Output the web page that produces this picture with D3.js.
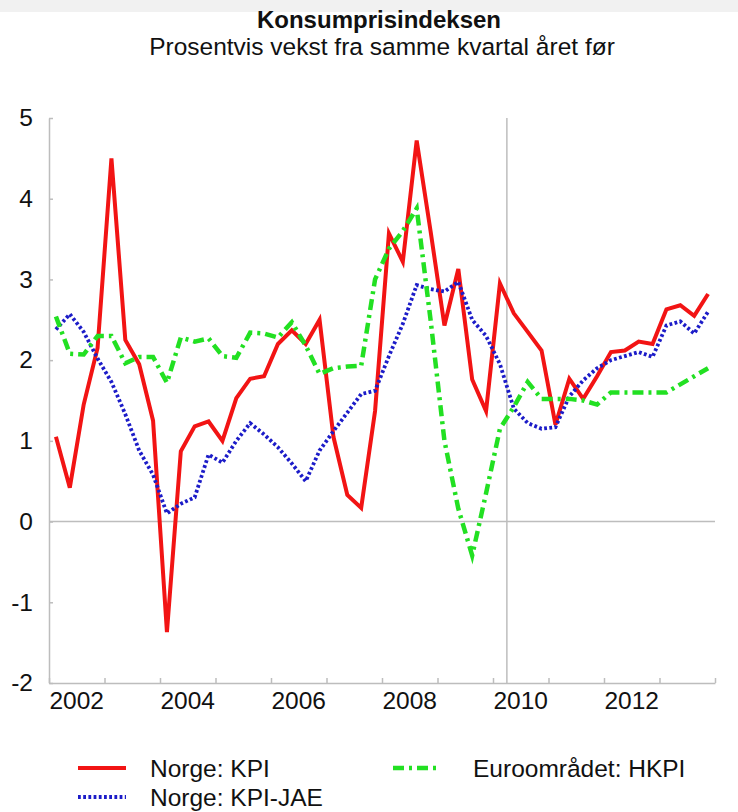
<!DOCTYPE html>
<html>
<head>
<meta charset="utf-8">
<script src="https://cdn.jsdelivr.net/npm/d3@7"></script>
<style>
body { margin: 0; background: #fff; }
text { font-family: 'Liberation Sans', Arial, sans-serif; fill: #111; }
</style>
</head>
<body>
<svg width="738" height="812"></svg>
<script>
var quarters = [
    '2002K1','2002K2','2002K3','2002K4','2003K1','2003K2','2003K3','2003K4',
    '2004K1','2004K2','2004K3','2004K4','2005K1','2005K2','2005K3','2005K4',
    '2006K1','2006K2','2006K3','2006K4','2007K1','2007K2','2007K3','2007K4',
    '2008K1','2008K2','2008K3','2008K4','2009K1','2009K2','2009K3','2009K4',
    '2010K1','2010K2','2010K3','2010K4','2011K1','2011K2','2011K3','2011K4',
    '2012K1','2012K2','2012K3','2012K4','2013K1','2013K2','2013K3','2013K4'
];

// Norge: KPI
var kpi = [
    1.05, 0.42, 1.45, 2.15, 4.50, 2.25, 1.95, 1.25,
    -1.37, 0.87, 1.18, 1.24, 1.00, 1.53, 1.77, 1.80,
    2.20, 2.37, 2.20, 2.50, 1.05, 0.33, 0.17, 1.37,
    3.57, 3.22, 4.72, 3.60, 2.43, 3.13, 1.76, 1.37,
    2.95, 2.58, 2.35, 2.12, 1.20, 1.77, 1.52, 1.80,
    2.10, 2.12, 2.23, 2.20, 2.63, 2.68, 2.55, 2.82
];

// Norge: KPI-JAE
var kpiJae = [
    2.38, 2.57, 2.35, 2.02, 1.73, 1.33, 0.88, 0.58,
    0.10, 0.22, 0.30, 0.83, 0.73, 1.00, 1.22, 1.08,
    0.92, 0.72, 0.50, 0.88, 1.12, 1.35, 1.58, 1.62,
    2.05, 2.45, 2.93, 2.88, 2.85, 2.97, 2.50, 2.30,
    1.95, 1.40, 1.22, 1.15, 1.17, 1.55, 1.75, 1.90,
    2.00, 2.05, 2.10, 2.04, 2.43, 2.48, 2.33, 2.60
];

// Euroområdet: HKPI
var hkpi = [
    2.54, 2.08, 2.07, 2.30, 2.30, 1.96, 2.04, 2.04,
    1.72, 2.28, 2.23, 2.27, 2.05, 2.03, 2.34, 2.33,
    2.28, 2.47, 2.18, 1.83, 1.90, 1.92, 1.93, 3.00,
    3.38, 3.60, 3.88, 2.50, 1.00, 0.16, -0.42, 0.35,
    1.15, 1.42, 1.73, 1.52, 1.52, 1.52, 1.50, 1.45,
    1.60, 1.60, 1.60, 1.60, 1.60, 1.70, 1.80, 1.90
];

var yTicks = [-2, -1, 0, 1, 2, 3, 4, 5];
var yearTicks = [2002, 2003, 2004, 2005, 2006, 2007, 2008, 2009, 2010, 2011, 2012, 2013, 2014];
var yearLabels = ['2002', '2004', '2006', '2008', '2010', '2012'];
var markYear = 2010.25;

var title = 'Konsumprisindeksen';
var subtitle = 'Prosentvis vekst fra samme kvartal året før';

var series = [
    {name: 'Norge: KPI', values: kpi, color: '#f21414', width: 4, dash: null},
    {name: 'Norge: KPI-JAE', values: kpiJae, color: '#1c1cc8', width: 3.8, dash: '2.8,2.4'},
    {name: 'Euroområdet: HKPI', values: hkpi, color: '#22e022', width: 4.5, dash: '11,5,3,5'}
];

var svg = d3.select('svg');
var axisColor = '#bdbdbd';
var fontSize = '24.5px';

svg.append('rect')
    .attr('x', 0).attr('y', 0)
    .attr('width', 738).attr('height', 12)
    .attr('fill', '#f1f1f1');

var x = d3.scaleLinear().domain([2002, 2014]).range([49, 715]);
var y = d3.scaleLinear().domain([-2, 5]).range([683, 118]);

function qpos(q){
    var p = q.split('K');
    return Number(p[0]) + (Number(p[1]) - 0.5) / 4;
}

// titles
svg.append('text')
    .attr('x', 379).attr('y', 28)
    .attr('text-anchor', 'middle')
    .style('font-size', '24px')
    .style('font-weight', 'bold')
    .text(title);
svg.append('text')
    .attr('x', 382).attr('y', 55)
    .attr('text-anchor', 'middle')
    .style('font-size', fontSize)
    .text(subtitle);

// reference lines
svg.append('line')
    .attr('x1', x(2002)).attr('x2', x(2014))
    .attr('y1', y(0)).attr('y2', y(0))
    .attr('stroke', axisColor).attr('stroke-width', 1.5);
svg.append('line')
    .attr('x1', x(markYear)).attr('x2', x(markYear))
    .attr('y1', y(5)).attr('y2', y(-2))
    .attr('stroke', axisColor).attr('stroke-width', 1.5);

// axes
var yAxis = svg.append('g')
    .attr('transform', 'translate(' + x(2002) + ',0)')
    .call(d3.axisLeft(y).tickValues(yTicks).tickSizeInner(-4).tickSizeOuter(0).tickPadding(16)
        .tickFormat(function(d){ return String(d); }));

var xAxis = svg.append('g')
    .attr('transform', 'translate(0,' + y(-2) + ')')
    .call(d3.axisBottom(x).tickValues(yearTicks).tickSizeInner(-5).tickSizeOuter(0).tickFormat(''));

[yAxis, xAxis].forEach(function(g){
    g.select('.domain').attr('stroke', axisColor).attr('stroke-width', 1.5);
    g.selectAll('.tick line').attr('stroke', axisColor).attr('stroke-width', 1.5);
    g.selectAll('.tick text')
        .style('font-size', fontSize)
        .attr('fill', '#111');
});

svg.selectAll('.year-label').data(yearLabels)
    .enter()
    .append('text')
        .attr('class', 'year-label')
        .attr('x', function(d){ return x(Number(d) + 0.5); })
        .attr('y', 709)
        .attr('text-anchor', 'middle')
        .style('font-size', fontSize)
        .text(function(d){ return d; });

// series lines
var line = d3.line()
    .x(function(d){ return x(qpos(d.q)); })
    .y(function(d){ return y(d.v); });

series.forEach(function(s){
    var pts = quarters.map(function(q, i){ return {q: q, v: s.values[i]}; });
    svg.append('path')
        .datum(pts)
        .attr('d', line)
        .attr('fill', 'none')
        .attr('stroke', s.color)
        .attr('stroke-width', s.width)
        .attr('stroke-linejoin', 'miter')
        .attr('stroke-dasharray', s.dash);
});

// legend
var legendPos = [[78, 768], [78, 797], [393, 768]];
series.forEach(function(s, i){
    var p = legendPos[i];
    svg.append('line')
        .attr('x1', p[0]).attr('x2', p[0] + 48)
        .attr('y1', p[1]).attr('y2', p[1])
        .attr('stroke', s.color)
        .attr('stroke-width', s.width)
        .attr('stroke-dasharray', s.dash);
    svg.append('text')
        .attr('x', p[0] + (i == 2 ? 80 : 72))
        .attr('y', p[1] + 9)
        .style('font-size', fontSize)
        .text(s.name);
});
</script>
</body>
</html>
